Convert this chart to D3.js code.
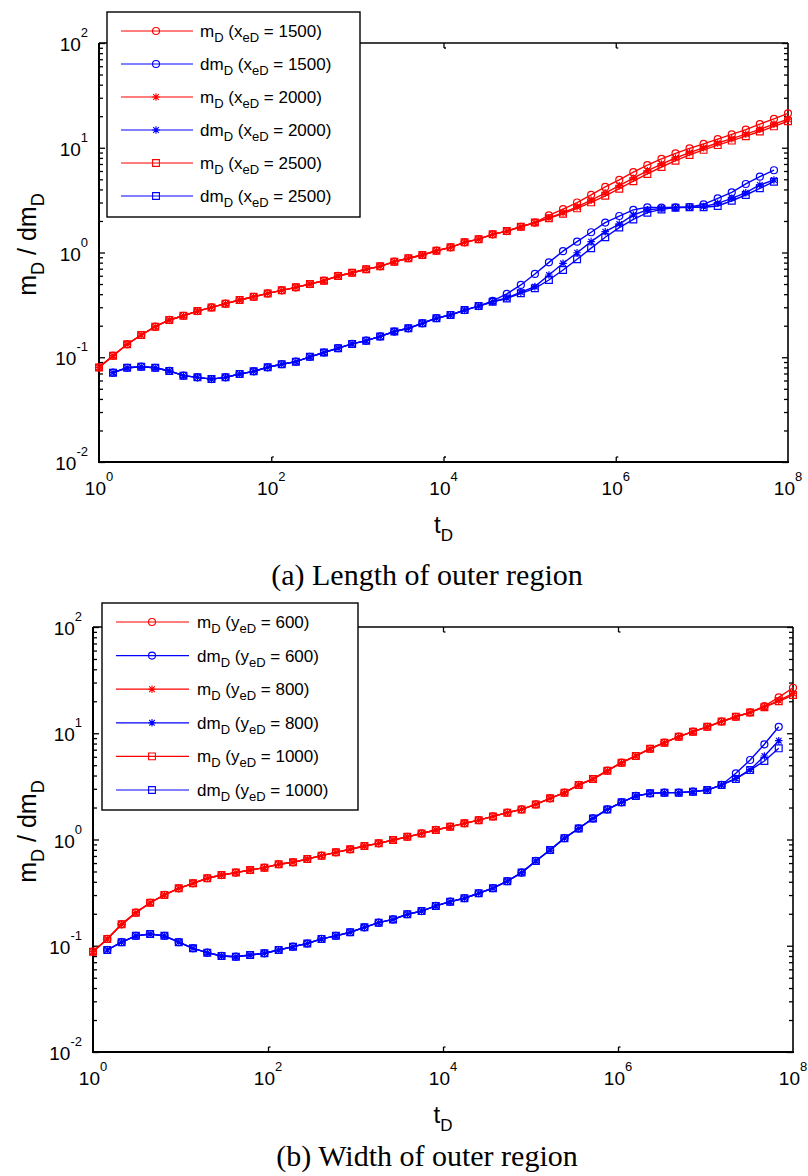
<!DOCTYPE html>
<html><head><meta charset="utf-8">
<script src="https://cdn.jsdelivr.net/npm/d3@7"></script>
<style>body{margin:0;background:#fff}svg{display:block}</style>
</head><body>
<svg id="fig" width="808" height="1176"></svg>
<script>
// log10 of dimensionless time tD at each computed step (50 steps over 8 decades)
const tExp = [0.000,0.163,0.327,0.490,0.653,0.816,0.980,1.143,1.306,1.469,
              1.633,1.796,1.959,2.122,2.286,2.449,2.612,2.776,2.939,3.102,
              3.265,3.429,3.592,3.755,3.918,4.082,4.245,4.408,4.571,4.735,
              4.898,5.061,5.224,5.388,5.551,5.714,5.878,6.041,6.204,6.367,
              6.531,6.694,6.857,7.020,7.184,7.347,7.510,7.673,7.837,8.000];
const tD = tExp.map(e => Math.pow(10, e));

// axis tick labels (powers of ten)
const xTickExp = [0, 2, 4, 6, 8];
const yTickExp = [-2, -1, 0, 1, 2];

// (a) length of outer region: xeD cases
const lenCases = ["1500", "2000", "2500"];
const mLen1500 = [0.080,0.1035,0.133,0.163,0.196,0.227,0.249,0.276,0.299,0.325,
                  0.352,0.378,0.407,0.435,0.465,0.500,0.538,0.597,0.641,0.692,
                  0.738,0.817,0.881,0.946,1.04,1.12,1.25,1.34,1.49,1.60,
                  1.76,1.93,2.26,2.60,3.00,3.55,4.23,4.93,5.84,6.82,
                  7.84,8.85,9.87,10.9,12.1,13.4,14.9,16.8,18.9,21.3];
const mLen2000 = [0.080,0.1035,0.133,0.163,0.196,0.227,0.249,0.276,0.299,0.325,
                  0.352,0.378,0.407,0.435,0.465,0.500,0.538,0.597,0.641,0.692,
                  0.738,0.817,0.881,0.946,1.04,1.12,1.25,1.34,1.49,1.60,
                  1.76,1.93,2.14,2.40,2.73,3.16,3.69,4.34,5.12,6.02,
                  6.99,7.98,9.00,10.0,11.1,12.2,13.5,15.0,16.8,18.7];
const mLen2500 = [0.080,0.1035,0.133,0.163,0.196,0.227,0.249,0.276,0.299,0.325,
                  0.352,0.378,0.407,0.435,0.465,0.500,0.538,0.597,0.641,0.692,
                  0.738,0.817,0.881,0.946,1.04,1.12,1.25,1.34,1.49,1.60,
                  1.76,1.93,2.12,2.35,2.64,3.01,3.48,4.07,4.79,5.62,
                  6.55,7.53,8.54,9.55,10.6,11.7,12.9,14.3,16.0,17.9];
const dmLen1500 = [null,0.0713,0.0794,0.0812,0.0794,0.0740,0.0667,0.0643,0.0619,0.0643,
                   0.0692,0.0734,0.0802,0.0857,0.0908,0.101,0.111,0.122,0.134,0.144,
                   0.158,0.176,0.189,0.211,0.236,0.253,0.282,0.308,0.345,0.402,
                   0.490,0.624,0.805,1.03,1.27,1.56,1.93,2.23,2.55,2.70,
                   2.68,2.70,2.72,2.88,3.29,3.75,4.51,5.30,6.10,null];
const dmLen2000 = [null,0.0713,0.0794,0.0812,0.0794,0.0740,0.0667,0.0643,0.0619,0.0643,
                   0.0692,0.0734,0.0802,0.0857,0.0908,0.101,0.111,0.122,0.134,0.144,
                   0.158,0.176,0.189,0.211,0.236,0.253,0.282,0.308,0.339,0.368,
                   0.418,0.472,0.610,0.789,0.995,1.27,1.58,1.87,2.28,2.55,
                   2.63,2.68,2.70,2.74,2.95,3.29,3.72,4.41,4.92,null];
const dmLen2500 = [null,0.0713,0.0794,0.0812,0.0794,0.0740,0.0667,0.0643,0.0619,0.0643,
                   0.0692,0.0734,0.0802,0.0857,0.0908,0.101,0.111,0.122,0.134,0.144,
                   0.158,0.176,0.189,0.211,0.236,0.253,0.282,0.308,0.339,0.364,
                   0.408,0.455,0.546,0.681,0.861,1.10,1.40,1.73,2.07,2.40,
                   2.58,2.68,2.70,2.70,2.78,3.12,3.54,4.10,4.74,null];

// (b) width of outer region: yeD cases
const widCases = ["600", "800", "1000"];
const mWid600  = [0.0879,0.116,0.159,0.205,0.254,0.301,0.347,0.387,0.432,0.463,
                  0.488,0.516,0.543,0.585,0.610,0.655,0.705,0.757,0.809,0.869,
                  0.920,0.989,1.06,1.14,1.23,1.32,1.42,1.52,1.65,1.79,
                  1.92,2.14,2.44,2.76,3.26,3.71,4.44,5.28,6.11,7.15,
                  8.15,9.29,10.35,11.5,12.9,14.3,15.7,18.0,21.8,26.8];
const mWid800  = [0.0879,0.116,0.159,0.205,0.254,0.301,0.347,0.387,0.432,0.463,
                  0.488,0.516,0.543,0.585,0.610,0.655,0.705,0.757,0.809,0.869,
                  0.920,0.989,1.06,1.14,1.23,1.32,1.42,1.52,1.65,1.79,
                  1.92,2.14,2.44,2.76,3.26,3.71,4.44,5.28,6.11,7.15,
                  8.15,9.29,10.35,11.5,12.9,14.3,15.7,17.7,20.3,23.7];
const mWid1000 = [0.0879,0.116,0.159,0.205,0.254,0.301,0.347,0.387,0.432,0.463,
                  0.488,0.516,0.543,0.585,0.610,0.655,0.705,0.757,0.809,0.869,
                  0.920,0.989,1.06,1.14,1.23,1.32,1.42,1.52,1.65,1.79,
                  1.92,2.14,2.44,2.76,3.26,3.71,4.44,5.28,6.11,7.15,
                  8.15,9.29,10.35,11.5,12.9,14.3,15.7,17.6,20.0,22.9];
const dmWid600  = [null,0.0912,0.108,0.124,0.129,0.124,0.108,0.0946,0.0861,0.0802,
                   0.0789,0.0818,0.0849,0.0912,0.0980,0.105,0.116,0.124,0.134,0.149,
                   0.165,0.177,0.198,0.212,0.237,0.260,0.280,0.312,0.348,0.405,
                   0.488,0.628,0.796,1.03,1.27,1.58,1.92,2.24,2.57,2.72,
                   2.76,2.76,2.82,2.92,3.26,4.20,5.60,7.87,11.5,null];
const dmWid800  = [null,0.0912,0.108,0.124,0.129,0.124,0.108,0.0946,0.0861,0.0802,
                   0.0789,0.0818,0.0849,0.0912,0.0980,0.105,0.116,0.124,0.134,0.149,
                   0.165,0.177,0.198,0.212,0.237,0.260,0.280,0.312,0.348,0.405,
                   0.488,0.628,0.796,1.03,1.27,1.58,1.92,2.24,2.57,2.72,
                   2.76,2.76,2.82,2.92,3.26,3.75,4.54,6.11,8.51,null];
const dmWid1000 = [null,0.0912,0.108,0.124,0.129,0.124,0.108,0.0946,0.0861,0.0802,
                   0.0789,0.0818,0.0849,0.0912,0.0980,0.105,0.116,0.124,0.134,0.149,
                   0.165,0.177,0.198,0.212,0.237,0.260,0.280,0.312,0.348,0.405,
                   0.488,0.628,0.796,1.03,1.27,1.58,1.92,2.24,2.57,2.72,
                   2.76,2.76,2.82,2.92,3.26,3.72,4.50,5.48,7.21,null];

const RED = "#ff0000", BLUE = "#0000ff";
const markerKinds = ["circle", "star", "square"];
const SANS = "Arial, 'Liberation Sans', sans-serif";
const SERIF = "'Times New Roman', 'Liberation Serif', serif";

const svg = d3.select("#fig");

function markerPath(kind) {
  if (kind === "circle") return "M3.5,0A3.5,3.5 0 1,1 -3.5,0A3.5,3.5 0 1,1 3.5,0Z";
  if (kind === "square") return "M-3.4,-3.4H3.4V3.4H-3.4Z";
  const s = 3.8, a = 2.8;
  return `M${-s},0H${s}M0,${-s}V${s}M${-a},${-a}L${a},${a}M${-a},${a}L${a},${-a}`;
}

function powText(sel, exp) {
  sel.append("tspan").text("10");
  sel.append("tspan").attr("dy", -14).attr("font-size", 13).text(String(exp));
}

function drawPanel(p) {
  const g = svg.append("g");
  const x = d3.scaleLog().domain([1, 1e8]).range([p.x0, p.x1]);
  const y = d3.scaleLog().domain([1e-2, 1e2]).range([p.yBot, p.yTop]);

  const yMajor = yTickExp.map(e => Math.pow(10, e));
  const yMinor = y.ticks().filter(v => !yMajor.some(m => Math.abs(m - v) / m < 1e-9));
  const xInner = [1e2, 1e4, 1e6];

  const styleAxis = a => {
    a.select(".domain").remove();
    a.selectAll(".tick line").attr("stroke", "#000").attr("stroke-width", 1.3);
  };

  // left and right y ticks (pointing inward)
  g.append("g").attr("transform", `translate(${p.x0},0)`)
    .call(d3.axisRight(y).tickValues(yMajor).tickSize(6).tickFormat("")).call(styleAxis);
  g.append("g").attr("transform", `translate(${p.x0},0)`)
    .call(d3.axisRight(y).tickValues(yMinor).tickSize(4).tickFormat("")).call(styleAxis);
  g.append("g").attr("transform", `translate(${p.x1},0)`)
    .call(d3.axisLeft(y).tickValues(yMajor).tickSize(6).tickFormat("")).call(styleAxis);
  g.append("g").attr("transform", `translate(${p.x1},0)`)
    .call(d3.axisLeft(y).tickValues(yMinor).tickSize(4).tickFormat("")).call(styleAxis);

  // x ticks on bottom and top edges with a small hook
  const bx = g.append("g").attr("transform", `translate(0,${p.yBot})`)
    .call(d3.axisTop(x).tickValues(xInner).tickSize(5).tickFormat("")).call(styleAxis);
  bx.selectAll(".tick").append("path").attr("d", "M0,-5h2").attr("stroke", "#000").attr("stroke-width", 1.3);
  const tx = g.append("g").attr("transform", `translate(0,${p.yTop})`)
    .call(d3.axisBottom(x).tickValues(xInner).tickSize(5).tickFormat("")).call(styleAxis);
  tx.selectAll(".tick").append("path").attr("d", "M0,5h2").attr("stroke", "#000").attr("stroke-width", 1.3);

  // axes frame
  g.append("line").attr("x1", p.x0).attr("x2", p.x1).attr("y1", p.yTop).attr("y2", p.yTop)
    .attr("stroke", "#000").attr("stroke-width", 1.6);
  g.append("line").attr("x1", p.x1).attr("x2", p.x1).attr("y1", p.yTop).attr("y2", p.yBot)
    .attr("stroke", "#000").attr("stroke-width", 1.6);
  g.append("line").attr("x1", p.x0).attr("x2", p.x1 + 1).attr("y1", p.yBot).attr("y2", p.yBot)
    .attr("stroke", "#000").attr("stroke-width", 2);
  g.append("line").attr("x1", p.x0).attr("x2", p.x0).attr("y1", p.yTop).attr("y2", p.yBot + 1)
    .attr("stroke", "#000").attr("stroke-width", 2);

  // tick labels
  g.append("g").selectAll("text").data(yTickExp).join("text")
    .attr("x", p.x0 - 11).attr("y", e => y(Math.pow(10, e)) + 8)
    .attr("text-anchor", "end").attr("font-family", SANS).attr("font-size", 19)
    .each(function (e) { powText(d3.select(this), e); });
  g.append("g").selectAll("text").data(xTickExp).join("text")
    .attr("x", e => x(Math.pow(10, e))).attr("y", p.yBot + 33)
    .attr("text-anchor", "middle").attr("font-family", SANS).attr("font-size", 19)
    .each(function (e) { powText(d3.select(this), e); });

  // axis titles
  const xt = g.append("text").attr("x", (p.x0 + p.x1) / 2).attr("y", p.yBot + 71)
    .attr("text-anchor", "middle").attr("font-family", SANS).attr("font-size", 24);
  xt.append("tspan").text("t");
  xt.append("tspan").attr("dy", 8).attr("font-size", 17).text("D");

  const yc = (p.yTop + p.yBot) / 2 - 8;
  const yt = g.append("text").attr("transform", `translate(${p.yLabelX},${yc}) rotate(-90)`)
    .attr("text-anchor", "middle").attr("font-family", SANS).attr("font-size", 25);
  yt.append("tspan").text("m");
  yt.append("tspan").attr("dy", 8).attr("font-size", 18).text("D");
  yt.append("tspan").attr("dy", -8).text(" / dm");
  yt.append("tspan").attr("dy", 8).attr("font-size", 18).text("D");

  // curves: for each case the pressure (red) then its derivative (blue)
  const series = [];
  p.cases.forEach((c, i) => {
    series.push({ vals: p.m[i], color: RED, kind: markerKinds[i] });
    series.push({ vals: p.dm[i], color: BLUE, kind: markerKinds[i] });
  });
  const line = d3.line().defined(d => d.v != null).x(d => x(d.t)).y(d => y(d.v));
  series.forEach(s => {
    const pts = tD.map((t, k) => ({ t, v: s.vals[k] }));
    const sg = g.append("g");
    sg.append("path").attr("d", line(pts)).attr("fill", "none")
      .attr("stroke", s.color).attr("stroke-width", 1.4);
    sg.selectAll("path.mk").data(pts.filter(d => d.v != null)).join("path").attr("class", "mk")
      .attr("transform", d => `translate(${x(d.t)},${y(d.v)})`)
      .attr("d", markerPath(s.kind)).attr("fill", "none")
      .attr("stroke", s.color).attr("stroke-width", 1.2);
  });

  // legend
  const L = p.legend;
  const lg = g.append("g");
  lg.append("rect").attr("x", L.x).attr("y", L.y).attr("width", L.w).attr("height", L.h)
    .attr("fill", "#fff").attr("stroke", "#000").attr("stroke-width", 1.4);
  series.forEach((s, i) => {
    const ry = L.rowY0 + i * L.step;
    const caseVal = p.cases[Math.floor(i / 2)];
    lg.append("line").attr("x1", L.lx0).attr("x2", L.lx1).attr("y1", ry).attr("y2", ry)
      .attr("stroke", s.color).attr("stroke-width", 1.2);
    lg.append("path").attr("transform", `translate(${L.mx},${ry})`).attr("d", markerPath(s.kind))
      .attr("fill", "none").attr("stroke", s.color).attr("stroke-width", 1.1);
    const tx2 = lg.append("text").attr("x", L.tx).attr("y", ry + 6)
      .attr("font-family", SANS).attr("font-size", 17);
    tx2.append("tspan").text(i % 2 === 0 ? "m" : "dm");
    tx2.append("tspan").attr("dy", 5).attr("font-size", 13).text("D");
    tx2.append("tspan").attr("dy", -5).text(" (" + p.param);
    tx2.append("tspan").attr("dy", 5).attr("font-size", 13).text("eD");
    tx2.append("tspan").attr("dy", -5).text(" = " + caseVal + ")");
  });

  // caption
  svg.append("text").attr("x", p.capX).attr("y", p.capY).attr("text-anchor", "middle")
    .attr("font-family", SERIF).attr("font-size", 30).text(p.caption);
}

drawPanel({
  x0: 99, x1: 788, yTop: 43, yBot: 462, yLabelX: 36,
  cases: lenCases, param: "x",
  m: [mLen1500, mLen2000, mLen2500], dm: [dmLen1500, dmLen2000, dmLen2500],
  legend: { x: 107, y: 12, w: 253, h: 205, lx0: 121, lx1: 193, mx: 156, tx: 200, rowY0: 31, step: 33 },
  caption: "(a) Length of outer region", capX: 427, capY: 585
});
drawPanel({
  x0: 93, x1: 793, yTop: 627, yBot: 1052, yLabelX: 36,
  cases: widCases, param: "y",
  m: [mWid600, mWid800, mWid1000], dm: [dmWid600, dmWid800, dmWid1000],
  legend: { x: 102, y: 603, w: 256, h: 207, lx0: 116, lx1: 189, mx: 152, tx: 197, rowY0: 622, step: 33.6 },
  caption: "(b) Width of outer region", capX: 427, capY: 1166
});
</script>
</body></html>
